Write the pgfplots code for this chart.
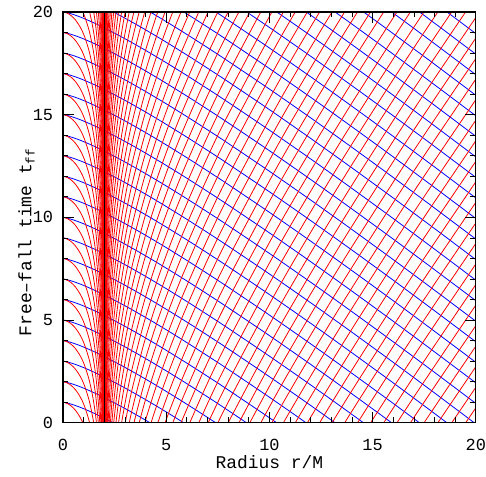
\documentclass[border=0pt]{standalone}
\usepackage{fontspec}
\setmainfont{Liberation Mono}
\usepackage{pgfplots}
\usepackage{pgfplotstable}
\pgfplotsset{compat=1.18}

% ingoing light ray, t = t0 - F(r)
\pgfplotstableread{
r F
0 0
0.05 0.0047
0.1 0.01277
0.2 0.034175
0.35 0.074601
0.5 0.121860
0.75 0.211337
1 0.310774
1.5 0.531142
2 0.772589
3 1.299589
4 1.868640
5 2.468369
6 3.092007
7 3.735089
8 4.394449
10 5.753164
12 7.154946
14 8.591247
16 10.056108
18 11.545177
20 13.055138
}\ingoing

% outgoing light ray outside r=2M, t = G(r) - c
\pgfplotstableread{
r G
2.00004 -40.0516
2.00012 -35.6570
2.0004 -30.8405
2.0012 -26.4445
2.004 -21.6230
2.008 -18.8424
2.01603 -16.0538
2.0281 -13.7913
2.0483 -11.5951
2.0808 -9.4873
2.14245 -7.1272
2.2472 -4.7664
2.42 -2.3903
2.645 -0.3435
2.88 1.2423
3.125 2.5798
3.38 3.7641
3.92 5.8548
4.5 7.7274
5.12 9.4767
5.78 11.1533
6.845 13.5949
8 16.0
10.58 20.8295
13.52 25.8000
16.82 30.9874
20 35.7338
20.48 36.4338
}\outgoing

% outgoing light ray inside r=2M, t = n + G(r)
\pgfplotstableread{
r G
0 0
0.045 -0.005074
0.125 -0.025728
0.245 -0.078131
0.405 -0.186348
0.605 -0.389031
0.845 -0.754288
1.0368 -1.175064
1.28 -1.957752
1.4792 -2.945251
1.62 -3.99034
1.7672 -5.726443
1.86245 -7.687177
1.9208 -9.807292
1.952288 -11.787108
1.972098 -13.903282
1.984032 -16.117811
1.992008 -18.874424
1.996002 -21.639019
1.9988 -26.449312
1.9996 -30.842161
1.99988 -35.6575
1.99996 -40.0518
}\inside

\begin{document}
\begin{tikzpicture}
\begin{axis}[
  name=ax,
  width=413bp, height=411bp, scale only axis,
  xmin=0, xmax=20, ymin=0, ymax=20,
  xtick={0,5,10,15,20}, ytick={0,5,10,15,20}, minor tick num=4,
  tick align=inside, major tick length=11bp, minor tick length=5.5bp,
  every tick/.style={black, line width=0.8bp},
  axis line style={line width=1.2bp},
  axis on top,
  /pgf/number format/assume math mode=true,
  tick label style={font=\fontsize{17}{20}\selectfont, inner sep=0pt},
  xticklabel style={yshift=-16.5bp},
  yticklabel style={xshift=-9.7bp},
  label style={font=\fontsize{18}{21}\selectfont, inner sep=0pt},
  xlabel style={yshift=-4bp},
  ylabel style={yshift=-2bp, xshift=-25bp},
  xlabel={Radius r/M},
  ylabel={Free--fall time t\textsubscript{ff}},
]
\pgfplotsinvokeforeach{1,...,33}{
  \addplot[blue, line width=0.8bp, smooth] table[x=r, y expr={#1-\thisrow{F}}] {\ingoing};
}
\pgfplotsinvokeforeach{-40,...,35}{
  \addplot[red, line width=0.8bp, smooth] table[x=r, y expr={\thisrow{G}-(#1)}] {\outgoing};
}
\pgfplotsinvokeforeach{1,...,45}{
  \addplot[red, line width=0.8bp, smooth] table[x=r, y expr={\thisrow{G}+#1}] {\inside};
}
\addplot[black, line width=1.5bp] coordinates {(2,0) (2,20)};
\end{axis}
\path (ax.south west) ++(-63bp,-54bp) rectangle ([shift={(10bp,12bp)}]ax.north east);
\end{tikzpicture}
\end{document}
